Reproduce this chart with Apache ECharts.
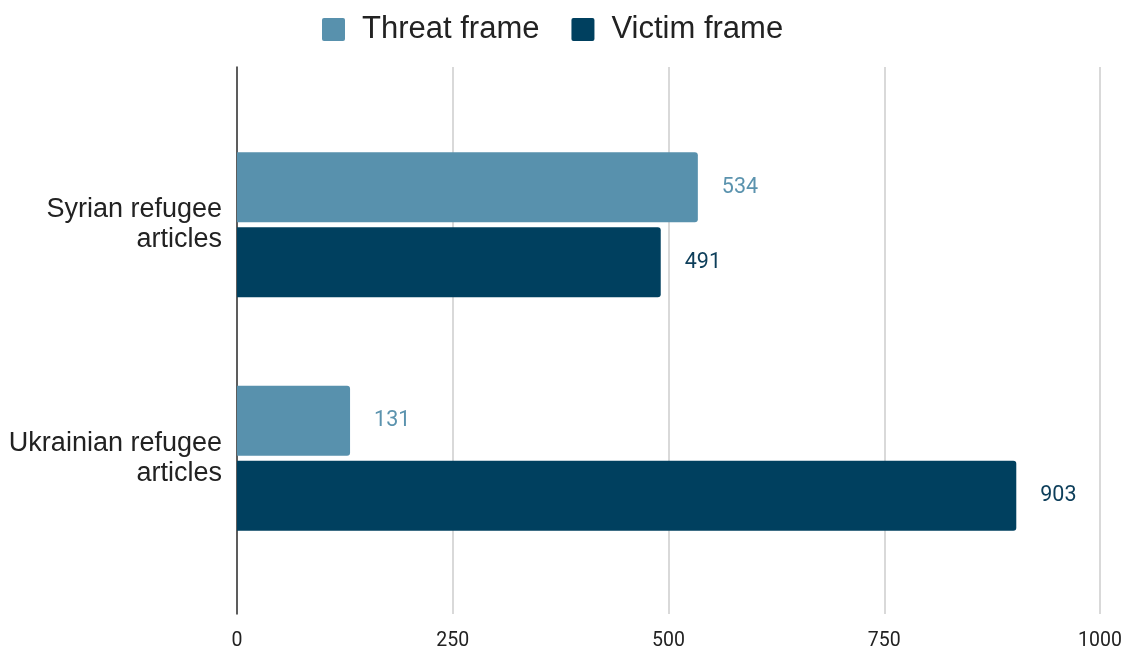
<!DOCTYPE html>
<html>
<head>
<meta charset="utf-8">
<script src="https://cdn.jsdelivr.net/npm/echarts@6/dist/echarts.min.js"></script>
<style>html,body{margin:0;padding:0;background:#fff;}#c{width:1134px;height:651px;}</style>
</head>
<body>
<div id="c"></div>
<script>
const categories = ['Syrian refugee\narticles', 'Ukrainian refugee\narticles'];
const seriesNames = ['Threat frame', 'Victim frame'];
const threatValues = [534, 131];
const victimValues = [491, 903];
const xTicks = [0, 250, 500, 750, 1000];

const colors = ['#5891ad', '#00405f'];
const chart = echarts.init(document.getElementById('c'));
chart.setOption({
  backgroundColor: '#ffffff',
  animation: false,
  legend: {
    top: 9, left: 317,
    itemWidth: 23, itemHeight: 23, itemGap: 32,
    icon: 'path://M2,0 H21 A2,2 0 0 1 23,2 V21 A2,2 0 0 1 21,23 H2 A2,2 0 0 1 0,21 V2 A2,2 0 0 1 2,0 Z',
    textStyle: { fontFamily: 'Liberation Sans, Arial', fontSize: 31, color: '#222', padding: [0, 0, 0, 12] },
    data: seriesNames
  },
  grid: [
    { left: 237, right: 34, top: 67, bottom: 34 },
    { left: 237, right: 34, top: 108, bottom: 76 }
  ],
  xAxis: [
    { type: 'value', gridIndex: 0, min: 0, max: 1000, interval: 250,
      axisLine: { show: false }, axisTick: { show: false },
      splitLine: { show: true, lineStyle: { color: '#cccccc', width: 1.5 } },
      axisLabel: { margin: 17, fontFamily: 'Roboto', fontSize: 19.5, color: '#222',
        formatter: v => xTicks.includes(v) ? String(v) : '' } },
    { type: 'value', gridIndex: 1, min: 0, max: 1000, show: false, splitLine: { show: false } }
  ],
  yAxis: [
    { type: 'category', gridIndex: 0, data: [''], axisTick: { show: false },
      axisLabel: { show: false },
      axisLine: { show: true, lineStyle: { color: '#333', width: 1.5 } } },
    { type: 'category', gridIndex: 1, data: categories, inverse: true,
      axisLine: { show: false }, axisTick: { show: false },
      axisLabel: { margin: 15, fontFamily: 'Liberation Sans, Arial', fontSize: 27, lineHeight: 30,
        color: '#222', align: 'right', padding: [8, 0, 0, 0] } }
  ],
  series: [
    { name: seriesNames[0], type: 'bar', xAxisIndex: 1, yAxisIndex: 1, data: threatValues,
      barGap: '7%', barCategoryGap: '38%',
      itemStyle: { color: colors[0], borderRadius: [0, 3, 3, 0] },
      label: { show: true, position: 'right', distance: 24, fontFamily: 'Roboto', fontSize: 21.5, color: '#5b93ae', padding: [8, 0, 0, 0] } },
    { name: seriesNames[1], type: 'bar', xAxisIndex: 1, yAxisIndex: 1, data: victimValues,
      barGap: '7%', barCategoryGap: '38%',
      itemStyle: { color: colors[1], borderRadius: [0, 3, 3, 0] },
      label: { show: true, position: 'right', distance: 24, fontFamily: 'Roboto', fontSize: 21.5, color: '#0d3e5a', padding: [8, 0, 0, 0] } }
  ]
});
</script>
</body>
</html>
